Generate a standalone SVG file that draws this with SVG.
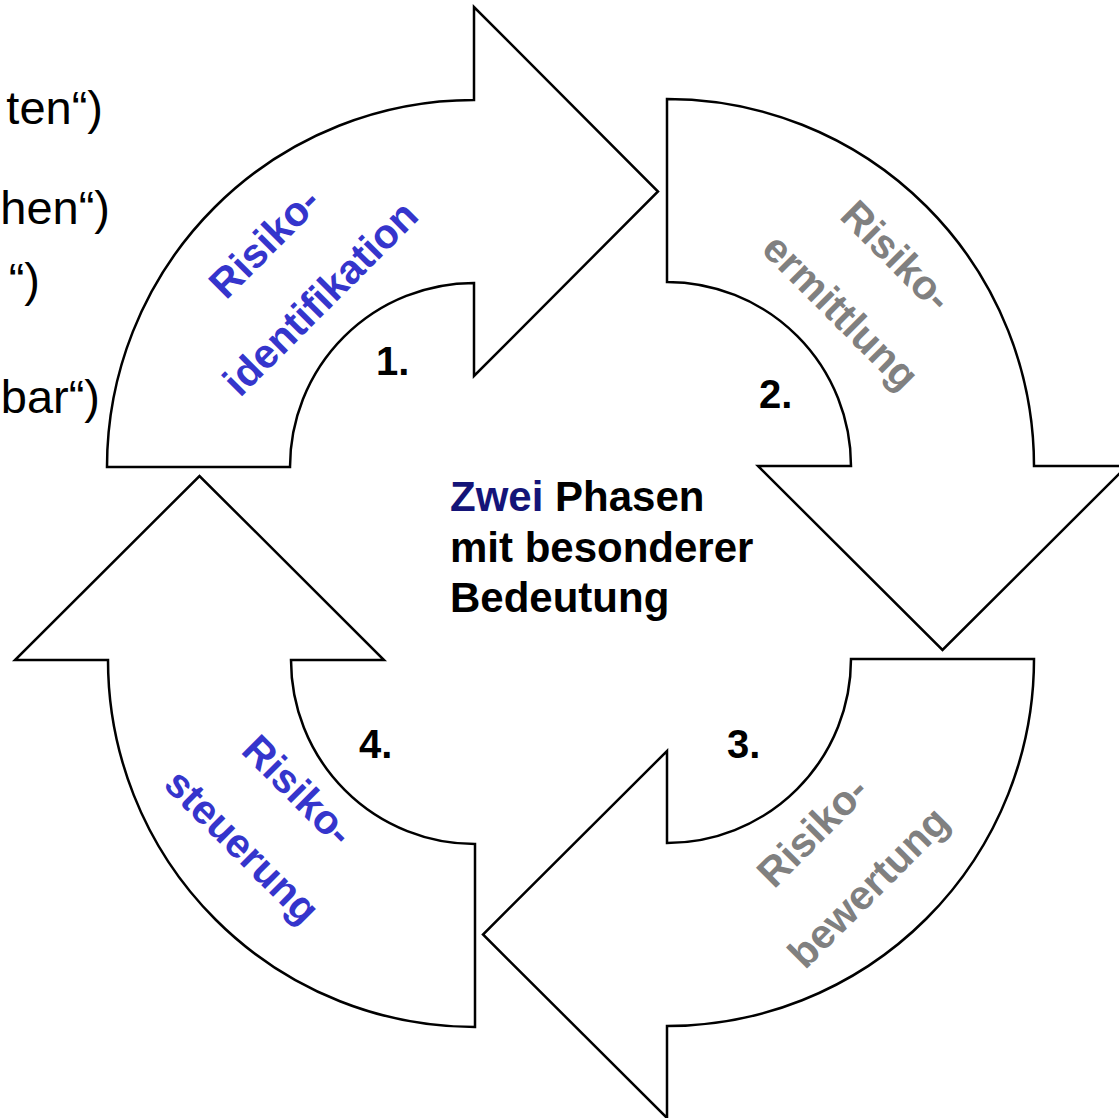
<svg xmlns="http://www.w3.org/2000/svg" width="1119" height="1118" viewBox="0 0 1119 1118">
  <style>
    .arrow { fill: #ffffff; stroke: #000000; stroke-width: 2.5; stroke-linejoin: miter; }
    .side { font-family: "Liberation Sans", Arial, sans-serif; font-size: 47px; fill: #000000; text-anchor: end; }
    .lbl { font-family: "Liberation Sans", Arial, sans-serif; font-weight: bold; font-size: 41px; text-anchor: middle; }
    .blue { fill: #3535cc; }
    .grey { fill: #808080; }
    .num { font-family: "Liberation Sans", Arial, sans-serif; font-weight: bold; font-size: 40px; fill: #000000; }
    .mid { font-family: "Liberation Sans", Arial, sans-serif; font-weight: bold; font-size: 42px; fill: #000000; }
  </style>
  <rect x="0" y="0" width="1119" height="1118" fill="#ffffff"/>

  <!-- text running in from the left edge -->
  <g id="side-text">
    <text class="side" x="103" y="124">ten“)</text>
    <text class="side" x="110" y="224">hen“)</text>
    <text class="side" x="40" y="296">“)</text>
    <text class="side" x="100" y="413">bar“)</text>
  </g>

  <!-- the four curved arrows of the cycle -->
  <g id="connectors">
    <g id="arrow-1">
      <path class="arrow" d="M290,467 L107,467 A367,367 0 0 1 474,100 L474,7 L658,191.5 L474,376 L474,283 A184,184 0 0 0 290,467 Z"/>
    </g>
    <g id="arrow-2">
      <path class="arrow" d="M667,282 L667,99 A367,367 0 0 1 1034,466 L1127,466 L942.5,650 L758,466 L851,466 A184,184 0 0 0 667,282 Z"/>
    </g>
    <g id="arrow-3">
      <path class="arrow" d="M851,659 L1034,659 A367,367 0 0 1 667,1026 L667,1118 L483,934.5 L667,751 L667,843 A184,184 0 0 0 851,659 Z"/>
    </g>
    <g id="arrow-4">
      <path class="arrow" d="M475,844 L475,1027 A367,367 0 0 1 108,660 L15,660 L199.5,476 L384,660 L291,660 A184,184 0 0 0 475,844 Z"/>
    </g>
  </g>

  <!-- phase 1 -->
  <g id="phase-1">
    <g transform="translate(292,270) rotate(-45)">
      <text class="lbl blue" x="0" y="-25">Risiko-</text>
      <text class="lbl blue" x="0" y="54">identifikation</text>
    </g>
    <text class="num" x="376" y="375">1.</text>
  </g>

  <!-- phase 2 -->
  <g id="phase-2">
    <g transform="translate(869,283.5) rotate(45)">
      <text class="lbl grey" x="0" y="-25">Risiko-</text>
      <text class="lbl grey" x="0" y="54">ermittlung</text>
    </g>
    <text class="num" x="759" y="408">2.</text>
  </g>

  <!-- phase 3 -->
  <g id="phase-3">
    <g transform="translate(840,859) rotate(-45)">
      <text class="lbl grey" x="0" y="-25">Risiko-</text>
      <text class="lbl grey" x="0" y="54">bewertung</text>
    </g>
    <text class="num" x="727" y="758">3.</text>
  </g>

  <!-- phase 4 -->
  <g id="phase-4">
    <g transform="translate(270.5,818) rotate(45)">
      <text class="lbl blue" x="0" y="-25">Risiko-</text>
      <text class="lbl blue" x="0" y="54">steuerung</text>
    </g>
    <text class="num" x="359" y="758">4.</text>
  </g>

  <!-- centre caption -->
  <g id="caption">
    <text class="mid" x="450" y="511"><tspan fill="#141478">Zwei</tspan> Phasen</text>
    <text class="mid" x="450" y="562">mit besonderer</text>
    <text class="mid" x="450" y="612">Bedeutung</text>
  </g>
</svg>
